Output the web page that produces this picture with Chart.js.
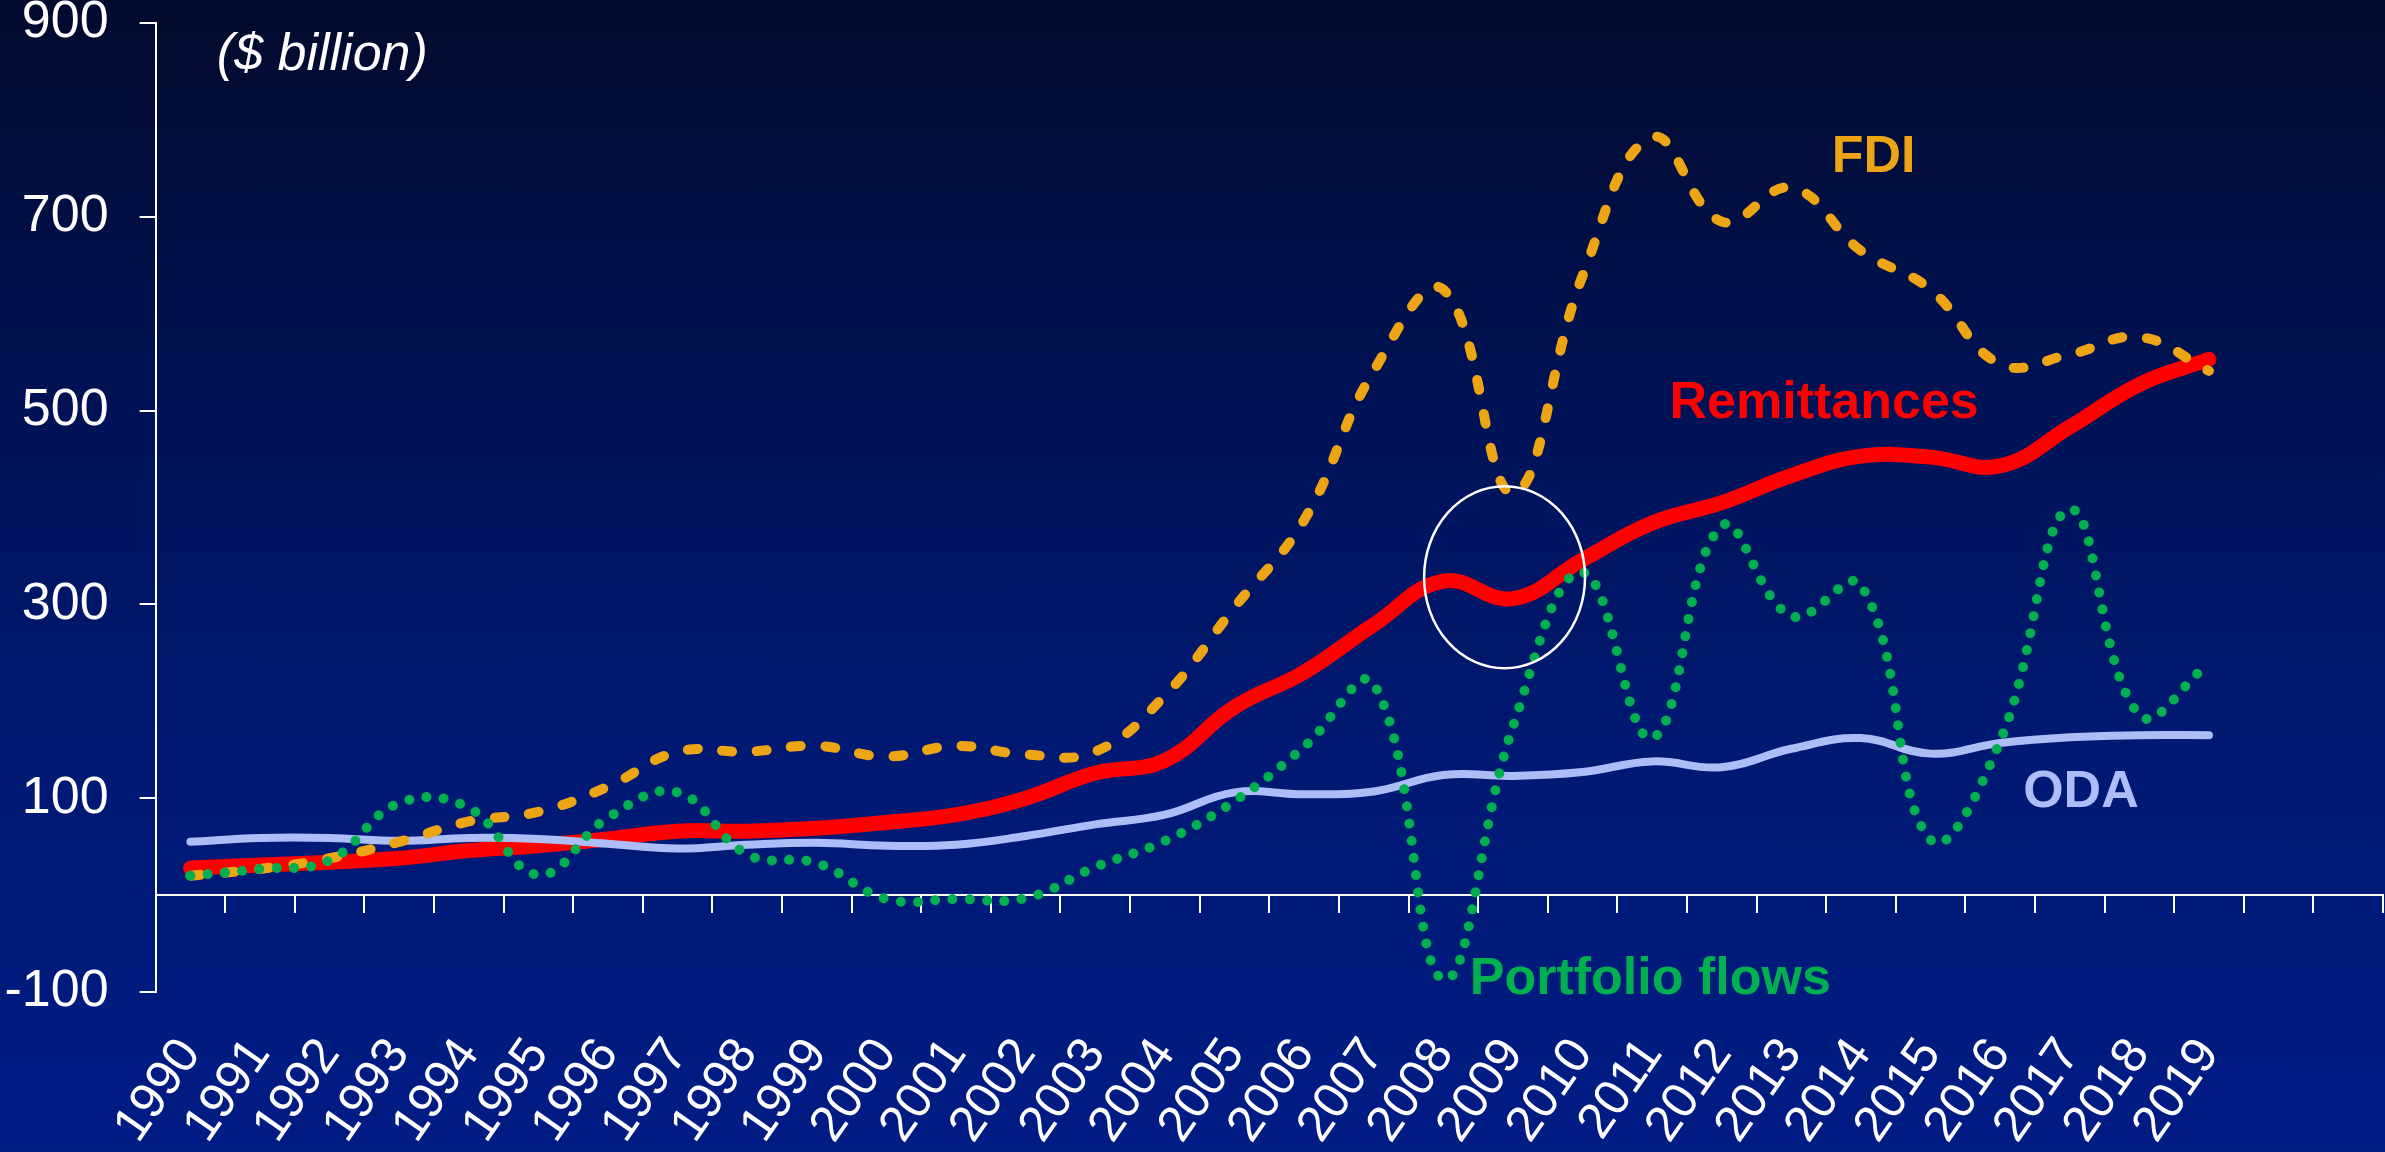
<!DOCTYPE html>
<html>
<head>
<meta charset="utf-8">
<script src="https://cdn.jsdelivr.net/npm/chart.js@4/dist/chart.umd.min.js"></script>
<style>
html,body{margin:0;padding:0;overflow:hidden;background:#001c85;}
#wrap{width:2385px;height:1152px;background:linear-gradient(to bottom,#020a2c 0%,#001150 30%,#00186f 60%,#001c85 100%);}
canvas{display:block;}
</style>
</head>
<body>
<div id="wrap"><canvas id="c" width="2385" height="1152"></canvas></div>
<script>
// ---- data ----
const years = ['1990','1991','1992','1993','1994','1995','1996','1997','1998','1999',
               '2000','2001','2002','2003','2004','2005','2006','2007','2008','2009',
               '2010','2011','2012','2013','2014','2015','2016','2017','2018','2019'];
const emptySlots = ['', ''];
const fdi         = [20, 27, 38, 55, 76, 86, 112, 148, 148, 154, 143, 154, 145, 148, 206, 297, 387, 541, 625, 415, 639, 782, 695, 730, 665, 625, 548, 558, 576, 541];
const remittances = [28, 31, 34, 38, 46, 51, 58, 66, 66, 69, 75, 83, 100, 126, 139, 194, 230, 279, 324, 306, 346, 384, 405, 433, 453, 452, 443, 483, 527, 553];
const oda         = [55, 59, 59, 56, 59, 58, 53, 48, 52, 54, 51, 52, 61, 73, 83, 106, 104, 107, 124, 123, 127, 138, 132, 151, 162, 146, 157, 163, 165, 165];
const portfolio   = [20, 27, 36, 95, 90, 21, 80, 106, 42, 33, -4, -4, -3, 29, 56, 97, 153, 218, -87, 174, 333, 162, 381, 288, 320, 57, 159, 398, 186, 239];
const yMin = -100, yMax = 900, yStep = 200;
const unitLabel = '($ billion)';
const seriesNames = ['FDI', 'Remittances', 'ODA', 'Portfolio flows'];

// ---- styles ----
const COL = {fdi:'#eda515', rem:'#ff0000', oda:'#adbdf8', pf:'#00b050', axis:'#ffffff'};
const FONT = '"Liberation Sans", Arial, sans-serif';

const overlayCfg = {
  ellipse: {x: 18.88, y: 328, rx: 1.156, ry: 94},
  texts: [
    {text: unitLabel,      x: 0.38,  y: 852,  color: '#ffffff', font: 'italic 52px ' + FONT},
    {text: seriesNames[0], x: 23.58, y: 746,  color: COL.fdi,   font: 'bold 52px ' + FONT},
    {text: seriesNames[1], x: 21.25, y: 492,  color: COL.rem,   font: 'bold 52px ' + FONT},
    {text: seriesNames[2], x: 26.33, y: 91,   color: COL.oda,   font: 'bold 52px ' + FONT},
    {text: seriesNames[3], x: 18.38, y: -102, color: COL.pf,    font: 'bold 52px ' + FONT}
  ]
};

const overlay = {
  id: 'overlay',
  afterDraw(chart) {
    const {ctx, scales: {x, y}} = chart;
    ctx.save();
    const e = overlayCfg.ellipse;
    const cx = x.getPixelForValue(e.x), cy = y.getPixelForValue(e.y);
    const rx = Math.abs(x.getPixelForValue(e.x + e.rx) - cx);
    const ry = Math.abs(y.getPixelForValue(e.y + e.ry) - cy);
    ctx.beginPath();
    ctx.ellipse(cx, cy, rx, ry, 0, 0, Math.PI * 2);
    ctx.strokeStyle = '#ffffff';
    ctx.lineWidth = 2.5;
    ctx.stroke();
    ctx.textAlign = 'left';
    ctx.textBaseline = 'alphabetic';
    for (const t of overlayCfg.texts) {
      ctx.font = t.font;
      ctx.fillStyle = t.color;
      ctx.fillText(t.text, x.getPixelForValue(t.x), y.getPixelForValue(t.y));
    }
    ctx.restore();
  }
};

const common = {pointRadius: 0, pointHoverRadius: 0, tension: 0.42, fill: false,
                borderCapStyle: 'round', borderJoinStyle: 'round'};

new Chart(document.getElementById('c'), {
  type: 'line',
  data: {
    labels: years.concat(emptySlots),
    datasets: [
      Object.assign({label: seriesNames[3], data: portfolio, borderColor: COL.pf, borderWidth: 10, borderDash: [0.01, 17.3], order: 0}, common),
      Object.assign({label: seriesNames[0], data: fdi, borderColor: COL.fdi, borderWidth: 10, borderDash: [10, 24.5], order: 1}, common),
      Object.assign({label: seriesNames[2], data: oda, borderColor: COL.oda, borderWidth: 8, order: 2}, common),
      Object.assign({label: seriesNames[1], data: remittances, borderColor: COL.rem, borderWidth: 15, order: 3}, common)
    ]
  },
  options: {
    responsive: false,
    animation: false,
    devicePixelRatio: 1,
    layout: {padding: {top: 23, right: 2, left: 0, bottom: 160}},
    plugins: {legend: {display: false}, tooltip: {enabled: false}},
    scales: {
      x: {
        type: 'category',
        position: {y: 0},
        offset: true,
        grid: {offset: true, drawOnChartArea: false, drawTicks: true, tickLength: 17, color: COL.axis, lineWidth: 2},
        border: {display: true, color: COL.axis, width: 2},
        ticks: {autoSkip: false, maxRotation: 55, minRotation: 55, padding: 116, color: '#ffffff',
                font: {family: FONT, size: 50}},
        afterFit(s) { s.paddingLeft = 0; s.paddingRight = 0; }
      },
      y: {
        type: 'linear',
        min: yMin, max: yMax,
        ticks: {stepSize: yStep, padding: 31, color: '#ffffff', font: {family: FONT, size: 52}},
        grid: {drawOnChartArea: false, drawTicks: true, tickLength: 16, color: COL.axis, lineWidth: 2},
        border: {display: true, color: COL.axis, width: 2},
        afterFit(s) { s.width = 155.6; s.paddingTop = 0; s.paddingBottom = 0; }
      }
    }
  },
  plugins: [overlay]
});
</script>
</body>
</html>
